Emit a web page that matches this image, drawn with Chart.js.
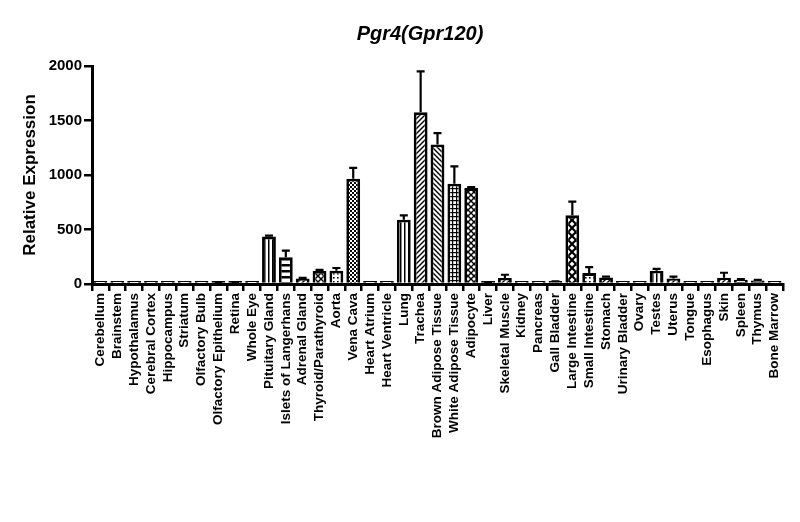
<!DOCTYPE html>
<html>
<head>
<meta charset="utf-8">
<script src="https://cdn.jsdelivr.net/npm/chart.js@4.4.1/dist/chart.umd.min.js"></script>
<style>
  html, body { margin: 0; padding: 0; background: #fff; }
</style>
</head>
<body>
<canvas id="chart" width="800" height="522"></canvas>
<script>
// tissues on the x axis
const tissues = [
  'Cerebellum', 'Brainstem', 'Hypothalamus', 'Cerebral Cortex', 'Hippocampus',
  'Striatum', 'Olfactory Bulb', 'Olfactory Epithelium', 'Retina', 'Whole Eye',
  'Pituitary Gland', 'Islets of Langerhans', 'Adrenal Gland', 'Thyroid/Parathyroid', 'Aorta',
  'Vena Cava', 'Heart Atrium', 'Heart Ventricle', 'Lung', 'Trachea',
  'Brown Adipose Tissue', 'White Adipose Tissue', 'Adipocyte', 'Liver', 'Skeletal Muscle',
  'Kidney', 'Pancreas', 'Gall Bladder', 'Large Intestine', 'Small Intestine',
  'Stomach', 'Urinary Bladder', 'Ovary', 'Testes', 'Uterus',
  'Tongue', 'Esophagus', 'Skin', 'Spleen', 'Thymus', 'Bone Marrow'
];

// mean relative expression
const expression = [
  2, 2, 6, 3, 6,
  2, 2, 12, 12, 3,
  435, 245, 50, 120, 122,
  965, 4, 4, 590, 1575,
  1280, 920, 880, 12, 55,
  8, 8, 20, 630, 100,
  60, 8, 2, 122, 50,
  2, 8, 58, 40, 32, 5
];

// upper error (SEM)
const sem = [
  0, 0, 0, 0, 0,
  0, 0, 2, 2, 0,
  8, 62, 6, 10, 25,
  100, 0, 0, 40, 375,
  105, 160, 10, 2, 30,
  0, 0, 4, 125, 55,
  8, 0, 0, 16, 18,
  0, 0, 45, 5, 5, 0
];

const yTicks = [0, 500, 1000, 1500, 2000];

const FONT = '"Liberation Sans", Arial, sans-serif';

/*
 * fill patterns (one per bar, like the prism export)
 */
function makePattern(kind) {
  const sizes = { vert: 4, horiz: 6, diagR: 5, diagL: 5, grid: 4, cross: 6, checker: 4, dots: 4, diamond: 8, plain: 4 };
  const s = sizes[kind];
  const c = document.createElement('canvas');
  c.width = s; c.height = s;
  const g = c.getContext('2d');
  g.fillStyle = '#fff';
  g.fillRect(0, 0, s, s);
  g.fillStyle = '#000';
  g.strokeStyle = '#000';
  g.lineWidth = 1.4;
  const line = (x1, y1, x2, y2) => { g.beginPath(); g.moveTo(x1, y1); g.lineTo(x2, y2); g.stroke(); };
  switch (kind) {
    case 'vert': g.fillRect(0, 0, 1.5, s); break;
    case 'horiz': g.fillRect(0, 0, s, 2.5); break;
    case 'diagR': line(-1, s + 1, s + 1, -1); line(-1, 1, 1, -1); line(s - 1, s + 1, s + 1, s - 1); break;
    case 'diagL': line(-1, -1, s + 1, s + 1); line(s - 1, -1, s + 1, 1); line(-1, s - 1, 1, s + 1); break;
    case 'grid': g.fillRect(0, 0, s, 1.2); g.fillRect(0, 0, 1.2, s); break;
    case 'cross': line(-1, -1, s + 1, s + 1); line(-1, s + 1, s + 1, -1); break;
    case 'checker': g.fillRect(0, 0, 2, 2); g.fillRect(2, 2, 2, 2); break;
    case 'dots': g.fillRect(1, 1, 1.6, 1.6); break;
    case 'diamond': g.lineWidth = 2.2; line(-1, -1, s + 1, s + 1); line(-1, s + 1, s + 1, -1); break;
  }
  return g.createPattern(c, 'repeat');
}

const fillKinds = [
  'plain', 'plain', 'plain', 'plain', 'plain', 'plain', 'plain', 'plain', 'plain', 'plain',
  'vert', 'horiz', 'diagR', 'cross', 'dots', 'checker', 'plain', 'plain', 'vert', 'diagR',
  'diagL', 'grid', 'cross', 'plain', 'diagR', 'plain', 'plain', 'plain', 'diamond', 'dots',
  'diagR', 'plain', 'plain', 'vert', 'diagR', 'plain', 'plain', 'diagR', 'horiz', 'horiz', 'plain'
];
const fills = fillKinds.map(makePattern);

// error bars drawn from the bar top upwards
const errorBars = {
  id: 'errorBars',
  afterDatasetsDraw(chart) {
    const { ctx } = chart;
    const y = chart.scales.y;
    const meta = chart.getDatasetMeta(0);
    ctx.save();
    ctx.strokeStyle = '#000';
    ctx.lineWidth = 2.2;
    meta.data.forEach((bar, i) => {
      if (!sem[i]) return;
      const top = y.getPixelForValue(expression[i]);
      const end = y.getPixelForValue(expression[i] + sem[i]);
      ctx.beginPath();
      ctx.moveTo(bar.x, top);
      ctx.lineTo(bar.x, end);
      ctx.moveTo(bar.x - 4, end);
      ctx.lineTo(bar.x + 4, end);
      ctx.stroke();
    });
    ctx.restore();
  }
};

// title, sits a bit left of the plot centre
const chartTitle = {
  id: 'chartTitle',
  afterDraw(chart) {
    const { ctx } = chart;
    ctx.save();
    ctx.fillStyle = '#000';
    ctx.font = 'italic bold 20px ' + FONT;
    ctx.textAlign = 'center';
    ctx.textBaseline = 'middle';
    ctx.fillText('Pgr4(Gpr120)', 420, 34);
    ctx.restore();
  }
};

new Chart(document.getElementById('chart'), {
  type: 'bar',
  data: {
    labels: tissues,
    datasets: [{
      data: expression,
      backgroundColor: fills,
      borderColor: '#000',
      borderWidth: 2.8,
      minBarLength: 3,
      barPercentage: 0.82,
      categoryPercentage: 1
    }]
  },
  options: {
    responsive: false,
    animation: false,
    layout: { padding: { left: 20, right: 17, top: 66, bottom: 0 } },
    plugins: {
      legend: { display: false },
      tooltip: { enabled: false }
    },
    scales: {
      x: {
        grid: { drawOnChartArea: false, drawTicks: true, tickLength: 7, color: '#000', lineWidth: 2.5 },
        border: { display: true, color: '#000', width: 3 },
        ticks: {
          autoSkip: false, maxRotation: 90, minRotation: 90, padding: 2,
          color: '#000', font: { family: FONT, size: 13.5, weight: 'bold' }
        },
        afterFit: scale => { scale.height = 238; }
      },
      y: {
        min: 0,
        max: 2000,
        afterBuildTicks: scale => { scale.ticks = yTicks.map(v => ({ value: v })); },
        grid: { drawOnChartArea: false, drawTicks: true, tickLength: 8, color: '#000', lineWidth: 2.5 },
        border: { display: true, color: '#000', width: 3 },
        ticks: {
          padding: 2, color: '#000', font: { family: FONT, size: 15, weight: 'bold' },
          callback: v => String(v)
        },
        title: {
          display: true, text: 'Relative Expression', color: '#000',
          padding: { top: 0, bottom: 4 },
          font: { family: FONT, size: 17, weight: 'bold' }
        },
        afterFit: scale => { scale.width = 72; }
      }
    }
  },
  plugins: [errorBars, chartTitle]
});
</script>
</body>
</html>
